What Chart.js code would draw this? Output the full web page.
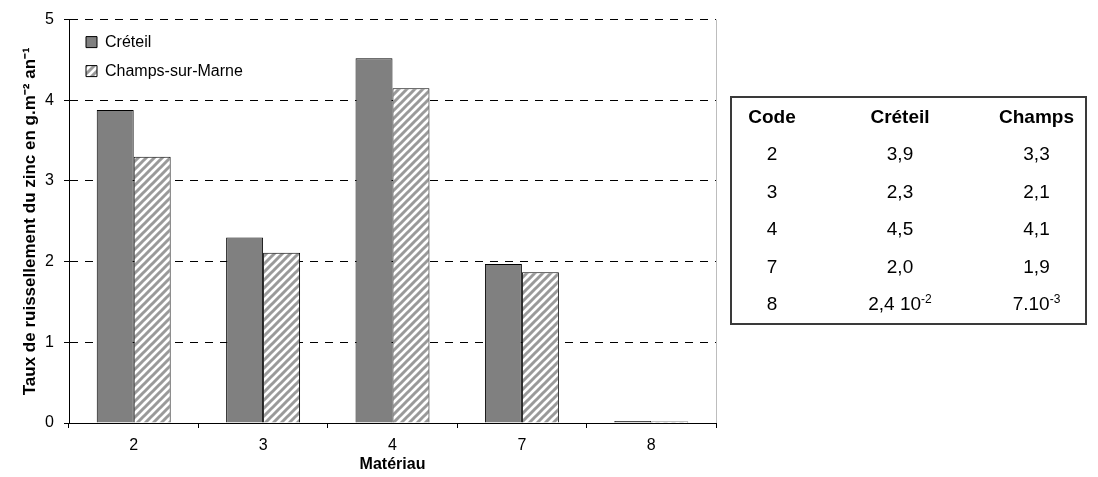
<!DOCTYPE html>
<html>
<head>
<meta charset="utf-8">
<script src="https://cdn.jsdelivr.net/npm/chart.js@4/dist/chart.umd.min.js"></script>
<style>
  html, body { margin: 0; padding: 0; background: #fff; }
  #wrap { position: relative; width: 1098px; height: 477px; overflow: hidden; }
  #c { position: absolute; left: 0; top: 0; }
  #tbl {
    position: absolute; left: 730px; top: 96px; width: 357px; height: 229px;
    box-sizing: border-box; border: 2px solid #3a3a3a; border-collapse: separate;
    border-spacing: 0; table-layout: fixed;
    font-family: 'Liberation Sans', Arial, sans-serif; font-size: 19px; color: #000;
  }
  #tbl td, #tbl th { text-align: center; padding: 0; height: 37.5px; line-height: 20px; }
  #tbl th { font-weight: bold; }
  #tbl sup { font-size: 12px; vertical-align: 7px; line-height: 0; }
</style>
</head>
<body>
<div id="wrap">
  <canvas id="c" width="1098" height="477"></canvas>
  <table id="tbl">
    <colgroup><col style="width:80px"><col style="width:176px"><col style="width:97px"></colgroup>
    <thead><tr id="thead"></tr></thead>
    <tbody id="tbody"></tbody>
  </table>
</div>
<script>
// ---- data ----
const categories = ['2', '3', '4', '7', '8'];
const creteil = [3.88, 2.30, 4.52, 1.97, 0.024];
const champs = [3.30, 2.11, 4.15, 1.87, 0.007];
const seriesNames = ['Créteil', 'Champs-sur-Marne'];
const yTicks = [0, 1, 2, 3, 4, 5];
const tableHeaders = ['Code', 'Créteil', 'Champs'];
const tableCodes = ['2', '3', '4', '7', '8'];
const tableCreteil = ['3,9', '2,3', '4,5', '2,0', '2,4 10<sup>-2</sup>'];
const tableChamps = ['3,3', '2,1', '4,1', '1,9', '7.10<sup>-3</sup>'];

// ---- table ----
document.getElementById('thead').innerHTML = tableHeaders.map(h => '<th>' + h + '</th>').join('');
document.getElementById('tbody').innerHTML = tableCodes.map((c, i) =>
  '<tr><td>' + c + '</td><td>' + tableCreteil[i] + '</td><td>' + tableChamps[i] + '</td></tr>').join('');

// ---- hatch pattern ----
function makeHatch() {
  const s = 8;
  const pc = document.createElement('canvas');
  pc.width = s; pc.height = s;
  const g = pc.getContext('2d');
  g.fillStyle = '#ffffff'; g.fillRect(0, 0, s, s);
  g.strokeStyle = '#9a9a9a'; g.lineWidth = 3;
  g.beginPath();
  g.moveTo(-s, s); g.lineTo(s, -s);
  g.moveTo(0, s); g.lineTo(s, 0);
  g.moveTo(0, 2 * s); g.lineTo(2 * s, 0);
  g.stroke();
  return g.createPattern(pc, 'repeat');
}
const hatch = makeHatch();

Chart.defaults.font.family = "'Liberation Sans', Arial, sans-serif";
Chart.defaults.color = '#000';

const legendNudge = {
  id: 'legendNudge',
  afterLayout(chart) {
    if (chart.legend) {
      chart.legend.left = chart.chartArea.left + 4;
      chart.legend.top = chart.chartArea.top + 1.5;
    }
  }
};

new Chart(document.getElementById('c'), {
  type: 'bar',
  data: {
    labels: categories,
    datasets: [
      { label: seriesNames[0], data: creteil, backgroundColor: '#808080', borderColor: '#000', borderWidth: 1, minBarLength: 2 },
      { label: seriesNames[1], data: champs, backgroundColor: hatch, borderColor: '#000', borderWidth: 1, minBarLength: 1.5 }
    ]
  },
  options: {
    responsive: false,
    animation: false,
    devicePixelRatio: 1,
    layout: { padding: { left: 0, top: 18, right: 382, bottom: 0 } },
    datasets: { bar: { categoryPercentage: 1 / 1.75, barPercentage: 1 } },
    plugins: {
      legend: {
        position: 'chartArea',
        align: 'start',
        labels: { boxWidth: 11, boxHeight: 11, padding: 13, font: { size: 16 }, color: '#000' }
      },
      tooltip: { enabled: false }
    },
    scales: {
      x: {
        afterFit(s) { s.height = 54; },
        grid: {
          offset: true,
          drawOnChartArea: true,
          color: (ctx) => (ctx.type === 'scale' ? '#bdbdbd' : 'rgba(0,0,0,0)'),
          tickColor: '#000',
          tickLength: 5
        },
        border: { color: '#000', width: 1 },
        ticks: { padding: 8, font: { size: 16 }, color: '#000' },
        title: { display: true, text: 'Matériau', font: { size: 16, weight: 'bold' }, color: '#000', padding: { top: 0, bottom: 3 } }
      },
      y: {
        min: yTicks[0],
        max: yTicks[yTicks.length - 1],
        afterFit(s) { s.width = 69; },
        afterBuildTicks(s) { s.ticks = yTicks.map(v => ({ value: v })); },
        grid: {
          color: (ctx) => (ctx.tick && ctx.tick.value === 0 ? 'rgba(0,0,0,0)' : '#000'),
          tickColor: '#000',
          tickLength: 5,
          tickBorderDash: []
        },
        border: { color: '#000', width: 1, dash: [8, 7] },
        ticks: { padding: 10, font: { size: 16 }, color: '#000' },
        title: {
          display: true,
          text: 'Taux de ruissellement du zinc en g.m\u207B\u00B2 an\u207B\u00B9',
          font: { size: 17, weight: 'bold' },
          color: '#000',
          padding: { top: 20, bottom: 0 }
        }
      }
    }
  },
  plugins: [legendNudge]
});
</script>
</body>
</html>
